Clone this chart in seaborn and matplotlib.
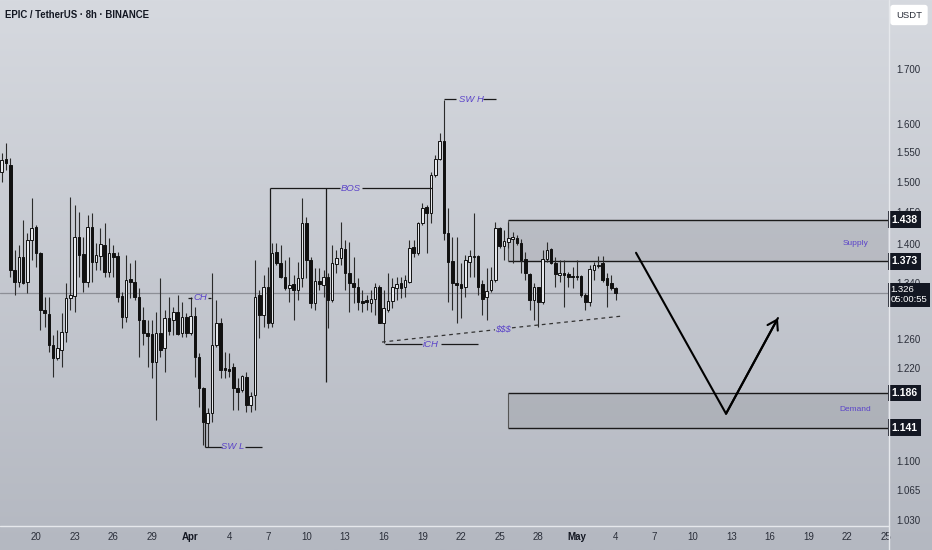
import numpy as np
import pandas as pd
import seaborn as sns
import matplotlib
matplotlib.use("Agg")
import matplotlib.pyplot as plt
import matplotlib.dates as mdates
from matplotlib.colors import LinearSegmentedColormap
from matplotlib.ticker import NullLocator

# candles (8h bars, EPIC/USDT)
first_bar = "2025-03-17 08:00"
bar_freq = "8h"
opens = [1.516, 1.538, 1.528, 1.360, 1.342, 1.380, 1.342, 1.406, 1.426, 1.386,
         1.301, 1.295, 1.251, 1.233, 1.244, 1.269, 1.318, 1.321, 1.411, 1.384,
         1.342, 1.426, 1.372, 1.381, 1.398, 1.357, 1.386, 1.381, 1.321, 1.291,
         1.346, 1.342, 1.320, 1.286, 1.268, 1.266, 1.228, 1.268, 1.247, 1.289,
         1.286, 1.298, 1.268, 1.291, 1.268, 1.292, 1.234, 1.193, 1.147, 1.160,
         1.251, 1.282, 1.219, 1.218, 1.221, 1.193, 1.190, 1.207, 1.170, 1.184,
         1.323, 1.293, 1.334, 1.282, 1.387, 1.370, 1.349, 1.333, 1.339, 1.330,
         1.348, 1.433, 1.375, 1.311, 1.343, 1.337, 1.349, 1.315, 1.369, 1.378,
         1.392, 1.355, 1.340, 1.334, 1.314, 1.315, 1.311, 1.317, 1.334, 1.282,
         1.301, 1.314, 1.333, 1.340, 1.334, 1.342, 1.395, 1.386, 1.433, 1.458,
         1.449, 1.511, 1.538, 1.569, 1.417, 1.373, 1.340, 1.339, 1.334, 1.372,
         1.380, 1.381, 1.339, 1.320, 1.330, 1.345, 1.425, 1.397, 1.403, 1.407,
         1.409, 1.401, 1.376, 1.354, 1.315, 1.334, 1.312, 1.376, 1.392, 1.370,
         1.352, 1.355, 1.354, 1.351, 1.351, 1.351, 1.323, 1.312, 1.360, 1.366,
         1.370, 1.348, 1.340, 1.333]
highs = [1.549, 1.566, 1.540, 1.390, 1.398, 1.437, 1.417, 1.473, 1.429, 1.387,
         1.320, 1.320, 1.265, 1.272, 1.296, 1.340, 1.475, 1.462, 1.450, 1.411,
         1.446, 1.449, 1.401, 1.425, 1.433, 1.409, 1.398, 1.387, 1.327, 1.383,
         1.370, 1.375, 1.333, 1.305, 1.286, 1.286, 1.298, 1.348, 1.301, 1.320,
         1.305, 1.322, 1.312, 1.296, 1.320, 1.305, 1.240, 1.194, 1.167, 1.355,
         1.315, 1.289, 1.241, 1.240, 1.226, 1.206, 1.210, 1.214, 1.187, 1.375,
         1.330, 1.352, 1.364, 1.401, 1.401, 1.398, 1.375, 1.380, 1.352, 1.372,
         1.473, 1.442, 1.380, 1.363, 1.363, 1.360, 1.355, 1.398, 1.390, 1.434,
         1.406, 1.403, 1.380, 1.348, 1.330, 1.323, 1.330, 1.340, 1.337, 1.330,
         1.355, 1.348, 1.349, 1.349, 1.352, 1.406, 1.406, 1.434, 1.465, 1.462,
         1.516, 1.545, 1.583, 1.642, 1.457, 1.411, 1.411, 1.370, 1.383, 1.390,
         1.449, 1.383, 1.345, 1.363, 1.364, 1.434, 1.426, 1.422, 1.434, 1.419,
         1.414, 1.407, 1.387, 1.355, 1.340, 1.335, 1.390, 1.403, 1.393, 1.380,
         1.375, 1.375, 1.357, 1.364, 1.375, 1.352, 1.326, 1.367, 1.372, 1.381,
         1.381, 1.355, 1.352, 1.334]
lows = [1.499, 1.520, 1.349, 1.323, 1.334, 1.338, 1.326, 1.375, 1.364, 1.272,
        1.276, 1.241, 1.207, 1.230, 1.221, 1.255, 1.301, 1.298, 1.349, 1.327,
        1.334, 1.342, 1.360, 1.360, 1.349, 1.349, 1.349, 1.312, 1.275, 1.283,
        1.318, 1.315, 1.234, 1.251, 1.221, 1.206, 1.151, 1.234, 1.214, 1.265,
        1.265, 1.265, 1.262, 1.262, 1.265, 1.207, 1.168, 1.120, 1.117, 1.149,
        1.248, 1.206, 1.206, 1.207, 1.164, 1.164, 1.187, 1.161, 1.161, 1.164,
        1.261, 1.276, 1.275, 1.276, 1.367, 1.348, 1.330, 1.312, 1.286, 1.315,
        1.334, 1.348, 1.304, 1.301, 1.330, 1.320, 1.275, 1.312, 1.355, 1.367,
        1.330, 1.298, 1.311, 1.301, 1.298, 1.301, 1.298, 1.293, 1.282, 1.254,
        1.298, 1.304, 1.315, 1.318, 1.320, 1.340, 1.380, 1.383, 1.429, 1.386,
        1.433, 1.508, 1.537, 1.406, 1.312, 1.301, 1.282, 1.289, 1.320, 1.349,
        1.349, 1.323, 1.293, 1.286, 1.327, 1.342, 1.393, 1.375, 1.393, 1.370,
        1.398, 1.355, 1.345, 1.301, 1.286, 1.276, 1.310, 1.372, 1.369, 1.334,
        1.342, 1.305, 1.334, 1.333, 1.345, 1.320, 1.301, 1.306, 1.345, 1.363,
        1.342, 1.305, 1.330, 1.315]
closes = [1.537, 1.531, 1.360, 1.342, 1.380, 1.340, 1.406, 1.425, 1.386, 1.301,
          1.296, 1.251, 1.233, 1.247, 1.269, 1.318, 1.323, 1.411, 1.383, 1.342,
          1.426, 1.372, 1.383, 1.400, 1.357, 1.386, 1.380, 1.320, 1.291, 1.345,
          1.342, 1.320, 1.286, 1.268, 1.264, 1.228, 1.268, 1.244, 1.289, 1.270,
          1.298, 1.266, 1.291, 1.268, 1.292, 1.234, 1.193, 1.149, 1.160, 1.251,
          1.282, 1.217, 1.217, 1.216, 1.193, 1.187, 1.209, 1.170, 1.182, 1.320,
          1.293, 1.334, 1.282, 1.386, 1.370, 1.349, 1.333, 1.337, 1.330, 1.348,
          1.433, 1.375, 1.311, 1.343, 1.339, 1.349, 1.315, 1.370, 1.378, 1.393,
          1.355, 1.340, 1.334, 1.312, 1.311, 1.312, 1.317, 1.334, 1.282, 1.304,
          1.314, 1.334, 1.339, 1.333, 1.345, 1.393, 1.386, 1.433, 1.457, 1.449,
          1.511, 1.538, 1.569, 1.417, 1.372, 1.340, 1.337, 1.333, 1.375, 1.381,
          1.381, 1.334, 1.317, 1.328, 1.345, 1.425, 1.397, 1.404, 1.409, 1.411,
          1.401, 1.375, 1.355, 1.315, 1.334, 1.312, 1.376, 1.390, 1.370, 1.354,
          1.355, 1.352, 1.349, 1.349, 1.349, 1.323, 1.312, 1.361, 1.367, 1.367,
          1.345, 1.337, 1.333, 1.326]

last_price = 1.326
countdown = "05:00:55"

price_ticks = [1.700, 1.600, 1.550, 1.500, 1.450, 1.400, 1.340,
               1.260, 1.220, 1.100, 1.065, 1.030]
day_ticks = ["2025-03-20", "2025-03-23", "2025-03-26", "2025-03-29",
             "2025-04-01", "2025-04-04", "2025-04-07", "2025-04-10",
             "2025-04-13", "2025-04-16", "2025-04-19", "2025-04-22",
             "2025-04-25", "2025-04-28", "2025-05-01", "2025-05-04",
             "2025-05-07", "2025-05-10", "2025-05-13", "2025-05-16",
             "2025-05-19", "2025-05-22", "2025-05-25"]
day_labels = ["20", "23", "26", "29", "Apr", "4", "7", "10", "13", "16", "19",
              "22", "25", "28", "May", "4", "7", "10", "13", "16", "19", "22", "25"]
view_dates = ["2025-03-17 04:55", "2025-05-25 03:45"]
view_prices = [1.0242, 1.8355]

# drawn zones and annotations
zone_start = "2025-04-25 15:30"
supply_zone = [1.373, 1.438]
demand_zone = [1.141, 1.186]
box_prices = [1.438, 1.373, 1.186, 1.141]

arrow_dates = ["2025-05-05 14:10", "2025-05-12 13:55", "2025-05-16 14:40"]
arrow_prices = [1.386, 1.159, 1.289]

bos_price = 1.489
bos_left = ["2025-04-07 04:00", "2025-04-12 14:00"]
bos_right = ["2025-04-14 07:30", "2025-04-19 18:00"]
bos_text = "2025-04-13 11:00"
bos_drops = ["2025-04-07 04:00", "2025-04-11 12:30"]
bos_drop_prices = [1.282, 1.2006]

swh_price = 1.644
swh_left = ["2025-04-20 16:20", "2025-04-21 14:40"]
swh_right = ["2025-04-23 17:00", "2025-04-24 17:15"]
swh_text = "2025-04-22 18:40"

swl_price = 1.117
swl_drop_top = 1.1485
swl_left = ["2025-04-02 02:50", "2025-04-03 10:30"]
swl_right = ["2025-04-05 05:30", "2025-04-06 13:10"]
swl_text = "2025-04-04 07:10"

ch_price = 1.3181
ch_left = ["2025-03-31 19:10", "2025-04-01 02:40"]
ch_right = ["2025-04-02 08:40", "2025-04-02 14:10"]
ch_text = "2025-04-01 17:30"

ich_price = 1.2523
ich_left = ["2025-04-16 02:25", "2025-04-18 23:15"]
ich_right = ["2025-04-20 10:50", "2025-04-23 07:40"]
ich_text = "2025-04-19 16:05"

liq_left = ["2025-04-15 20:50", "2025-04-24 15:20"]
liq_left_prices = [1.2551, 1.2723]
liq_right = ["2025-04-25 23:00", "2025-05-04 13:55"]
liq_right_prices = [1.2751, 1.2920]
liq_text = ("2025-04-25 06:15", 1.2737)

supply_label = ("2025-05-22 15:50", 1.3996)
demand_label = ("2025-05-22 13:55", 1.1639)


def dn(s):
    return mdates.date2num(pd.Timestamp(s))


def dns(lst):
    return [dn(s) for s in lst]


sns.set_theme(style="white")
plt.rcParams["font.family"] = ["Liberation Sans", "DejaVu Sans"]

ink = "#131722"
purple = "#5b44c9"
W, H = 932, 550

fig = plt.figure(figsize=(W / 100, H / 100), dpi=100)

# background gradient behind everything
bg = fig.add_axes([0, 0, 1, 1], zorder=-10)
cmap = LinearSegmentedColormap.from_list("bg", ["#d6d9df", "#b4b8c1"])
bg.imshow(np.linspace(0, 1, 256).reshape(-1, 1), aspect="auto", cmap=cmap,
          extent=[0, 1, 0, 1])
bg.set_axis_off()

ax = fig.add_axes([0, 25 / H, 888 / W, 525 / H])
ax.set_facecolor("none")
for sp in ax.spines.values():
    sp.set_visible(False)
ax.set_yscale("log")
ax.set_xlim(dns(view_dates))
ax.set_ylim(view_prices)

# candles
df = pd.DataFrame({"open": opens, "high": highs, "low": lows, "close": closes})
df["t"] = mdates.date2num(pd.date_range(first_bar, periods=len(df), freq=bar_freq))
df["up"] = df.close >= df.open
ax.vlines(df.t, df.low, df.high, color="#2b2b2b", lw=0.8, zorder=3)
bottoms = df[["open", "close"]].min(axis=1)
heights = (df.close - df.open).abs()
fills = np.where(df.up, "#e6e8ec", "#111111")
ax.bar(df.t, heights, bottom=bottoms, width=0.2, color=fills,
       edgecolor="#111111", linewidth=0.7, zorder=4)

xr = ax.get_xlim()[1]
zs = dn(zone_start)

# current price line
ax.axhline(last_price, color="#8c8f96", lw=0.9, zorder=2)

# supply / demand zones
for lo, hi in (supply_zone, demand_zone):
    ax.fill_between([zs, xr], lo, hi, color="black", alpha=0.07, lw=0, zorder=1)
    ax.hlines([lo, hi], zs, xr, color="#1a1a1a", lw=1.0, zorder=2)
    ax.vlines(zs, lo, hi, color="#555555", lw=0.8, zorder=2)
ax.text(dn(supply_label[0]), supply_label[1], "Supply", color=purple,
        fontsize=6, ha="center", va="center")
ax.text(dn(demand_label[0]), demand_label[1], "Demand", color=purple,
        fontsize=6, ha="center", va="center")

# projected path
sns.lineplot(x=dns(arrow_dates), y=arrow_prices, ax=ax, sort=False,
             color="black", lw=1.5, zorder=6)
ax.annotate("", xy=(dn(arrow_dates[2]), arrow_prices[2]),
            xytext=(dn(arrow_dates[1]), arrow_prices[1]),
            arrowprops=dict(arrowstyle="->,head_length=0.55,head_width=0.35",
                            color="black", lw=1.5, shrinkA=0, shrinkB=0),
            zorder=6)

line_kw = dict(color="#1a1a1a", lw=0.9, zorder=5)
text_kw = dict(color=purple, fontsize=6.8, style="italic", ha="center",
               va="center", zorder=6)

# BOS
ax.hlines(bos_price, *dns(bos_left), **line_kw)
ax.hlines(bos_price, *dns(bos_right), **line_kw)
ax.vlines(dns(bos_drops), bos_drop_prices, bos_price, **line_kw)
ax.text(dn(bos_text), bos_price, "BOS", **text_kw)

# swing high / low
ax.hlines(swh_price, *dns(swh_left), **line_kw)
ax.hlines(swh_price, *dns(swh_right), **line_kw)
ax.text(dn(swh_text), swh_price, "SW H", **text_kw)
ax.vlines(dn(swl_left[0]), swl_price, swl_drop_top, **line_kw)
ax.hlines(swl_price, *dns(swl_left), **line_kw)
ax.hlines(swl_price, *dns(swl_right), **line_kw)
ax.text(dn(swl_text), swl_price, "SW L", **text_kw)

# CH / iCH
ax.hlines(ch_price, *dns(ch_left), **line_kw)
ax.hlines(ch_price, *dns(ch_right), **line_kw)
ax.text(dn(ch_text), ch_price, "CH", **text_kw)
ax.hlines(ich_price, *dns(ich_left), **line_kw)
ax.hlines(ich_price, *dns(ich_right), **line_kw)
ax.text(dn(ich_text), ich_price, "iCH", **text_kw)

# liquidity trendline
sns.lineplot(x=dns(liq_left), y=liq_left_prices, ax=ax, color="#333333",
             lw=0.9, linestyle=(0, (3, 3)), zorder=5)
sns.lineplot(x=dns(liq_right), y=liq_right_prices, ax=ax, color="#333333",
             lw=0.9, linestyle=(0, (3, 3)), zorder=5)
ax.text(dn(liq_text[0]), liq_text[1], "$$$", **text_kw)

# axes ticks
ax.yaxis.tick_right()
ax.set_yticks(price_ticks)
ax.set_yticklabels(["{:.3f}".format(p) for p in price_ticks])
ax.yaxis.set_minor_locator(NullLocator())
ax.tick_params(axis="y", length=0, pad=6, labelsize=7, colors="#2a2e39")
ax.set_xticks(dns(day_ticks))
ax.set_xticklabels(day_labels)
ax.tick_params(axis="x", length=0, pad=5, labelsize=7, colors="#2a2e39")
for lab in ax.get_xticklabels():
    if lab.get_text() in ("Apr", "May"):
        lab.set_fontweight("bold")
        lab.set_color(ink)
ax.grid(False)
ax.set_xlabel("")
ax.set_ylabel("")
legend = ax.get_legend()
if legend is not None:
    legend.remove()

# price tags on the scale
ytr = ax.get_yaxis_transform()
for p in box_prices:
    ax.annotate("{:.3f}".format(p), xy=(1.0, p), xycoords=ytr,
                xytext=(2.5, 0), textcoords="offset points", ha="left",
                va="center", color="white", fontsize=7.5, fontweight="bold",
                bbox=dict(boxstyle="square,pad=0.32", fc=ink, ec="none"),
                annotation_clip=False, zorder=10)
ax.annotate("{:.3f}\n{}".format(last_price, countdown), xy=(1.0, last_price),
            xycoords=ytr, xytext=(2, 5.5), textcoords="offset points",
            ha="left", va="top", color="white", fontsize=6.8, linespacing=1.2,
            bbox=dict(boxstyle="square,pad=0.25", fc=ink, ec="none"),
            annotation_clip=False, zorder=10)

# separators, header, currency tag
fig.add_artist(plt.Line2D([888.5 / W, 888.5 / W], [0, 1], color="#e6e8ec", lw=1))
fig.add_artist(plt.Line2D([0, 888.5 / W], [24.5 / H, 24.5 / H], color="#e6e8ec", lw=1))
fig.text(5 / W, 1 - 15 / H, "EPIC / TetherUS · 8h · BINANCE", fontsize=6.9,
         fontweight="bold", color=ink, va="center", ha="left")
fig.text(909 / W, 1 - 15 / H, "USDT", fontsize=6.8, color="#2a2e39", ha="center",
         va="center", bbox=dict(boxstyle="round,pad=0.6,rounding_size=0.3",
                                fc="white", ec="none"))

fig.savefig("out.png", dpi=100)
